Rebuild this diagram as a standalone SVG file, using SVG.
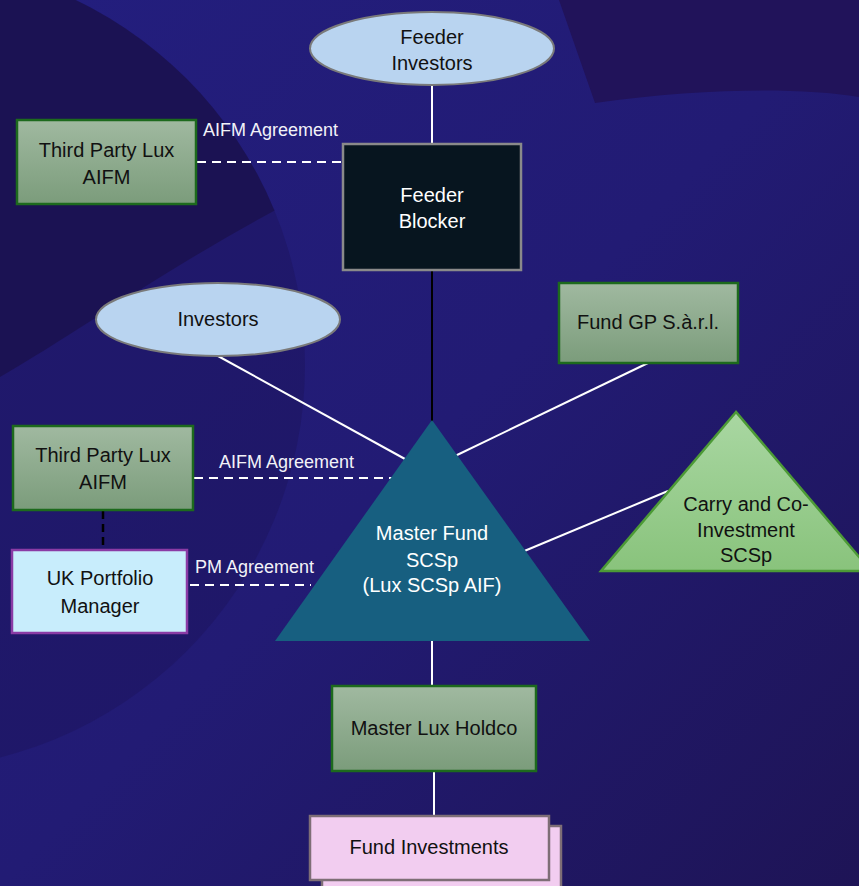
<svg xmlns="http://www.w3.org/2000/svg" width="859" height="886" viewBox="0 0 859 886">
<defs>
<linearGradient id="bg" x1="0" y1="0" x2="1" y2="1">
<stop offset="0" stop-color="#231e7e"/>
<stop offset="0.5" stop-color="#221b74"/>
<stop offset="1" stop-color="#1e1456"/>
</linearGradient>
<linearGradient id="green" x1="0" y1="0" x2="0" y2="1">
<stop offset="0" stop-color="#a0b9a0"/>
<stop offset="1" stop-color="#7b9c7b"/>
</linearGradient>
<linearGradient id="lgreen" x1="0" y1="0" x2="0" y2="1">
<stop offset="0" stop-color="#a9d7a2"/>
<stop offset="1" stop-color="#89c37c"/>
</linearGradient>
<clipPath id="circ"><circle cx="-100" cy="365" r="405"/></clipPath>
</defs>
<style>
.node{font-family:"Liberation Sans",Arial,sans-serif;font-size:20px;fill:#111;text-anchor:middle}
.wt{fill:#ffffff}
.lbl{font-family:"Liberation Sans",Arial,sans-serif;font-size:18px;fill:#f2f2f8}
.gbox{fill:url(#green);stroke:#1d6a1d;stroke-width:2.5}
.ell{fill:#b9d4f0;stroke:#7a7a7a;stroke-width:2}
.solid{stroke:#ffffff;stroke-width:2;fill:none}
.dash{stroke:#ffffff;stroke-width:2;stroke-dasharray:9 6;fill:none}
</style>
<g id="background">
<rect x="0" y="0" width="859" height="886" fill="url(#bg)"/>
<circle cx="-100" cy="365" r="405" fill="#1d145c" opacity="0.45"/>
<path clip-path="url(#circ)" d="M0,0 L600,0 L600,100 C350,130 150,290 0,377 Z" fill="#1b124f" opacity="0.85"/>
<path d="M559,0 L859,0 L859,97 C800,87 700,88 595,103 Z" fill="#21135a"/>
</g>
<g id="connectors">
<line class="solid" x1="432" y1="85" x2="432" y2="144" stroke-width="1.5"/>
<line x1="432" y1="270" x2="432" y2="423" stroke="#000000" stroke-width="2"/>
<line class="solid" x1="218" y1="356" x2="405" y2="459"/>
<line class="solid" x1="648" y1="363" x2="455" y2="456"/>
<line class="solid" x1="668" y1="491" x2="522" y2="552"/>
<line class="solid" x1="432" y1="641" x2="432" y2="686"/>
<line class="solid" x1="434" y1="771" x2="434" y2="816"/>
<line class="dash" x1="197" y1="162" x2="343" y2="162"/>
<line class="dash" x1="194" y1="478" x2="400" y2="478"/>
<line class="dash" x1="190" y1="585" x2="311" y2="585"/>
<line x1="103" y1="511" x2="103" y2="549" stroke="#000000" stroke-width="2.5" stroke-dasharray="8 5"/>
<text class="lbl" x="203" y="136">AIFM Agreement</text>
<text class="lbl" x="219" y="468">AIFM Agreement</text>
<text class="lbl" x="195" y="573">PM Agreement</text>
</g>
<g id="feeder-investors">
<ellipse class="ell" cx="432" cy="48.5" rx="122" ry="36.5"/>
<text class="node" x="432" y="43.5">Feeder</text>
<text class="node" x="432" y="69.5">Investors</text>
</g>
<g id="third-party-aifm-1">
<rect class="gbox" x="17" y="120" width="179" height="84"/>
<text class="node" x="106.5" y="157">Third Party Lux</text>
<text class="node" x="106.5" y="183.5">AIFM</text>
</g>
<g id="feeder-blocker">
<rect x="343" y="144" width="178" height="126" fill="#07151f" stroke="#8a8a8a" stroke-width="2.5"/>
<text class="node wt" x="432" y="201.5">Feeder</text>
<text class="node wt" x="432" y="227.5">Blocker</text>
</g>
<g id="investors">
<ellipse class="ell" cx="218" cy="319.5" rx="122" ry="36.5"/>
<text class="node" x="218" y="326">Investors</text>
</g>
<g id="fund-gp">
<rect class="gbox" x="559" y="283" width="179" height="80"/>
<text class="node" x="648" y="329">Fund GP S.à.r.l.</text>
</g>
<g id="third-party-aifm-2">
<rect class="gbox" x="13" y="426" width="180" height="84"/>
<text class="node" x="103" y="462">Third Party Lux</text>
<text class="node" x="103" y="488.5">AIFM</text>
</g>
<g id="uk-portfolio-manager">
<rect x="12" y="550" width="175" height="83" fill="#c8edfc" stroke="#8a3ba5" stroke-width="2.5"/>
<text class="node" x="100" y="585">UK Portfolio</text>
<text class="node" x="100" y="612.5">Manager</text>
</g>
<g id="master-fund">
<polygon points="432,420 275,641 590,641" fill="#175f80"/>
<text class="node wt" x="432" y="540">Master Fund</text>
<text class="node wt" x="432" y="566.5">SCSp</text>
<text class="node wt" x="432" y="591.5">(Lux SCSp AIF)</text>
</g>
<g id="carry-co-investment">
<polygon points="736,412 601,571 871,571" fill="url(#lgreen)" stroke="#4c9a36" stroke-width="2.5"/>
<text class="node" x="746" y="511">Carry and Co-</text>
<text class="node" x="746" y="536.5">Investment</text>
<text class="node" x="746" y="561.5">SCSp</text>
</g>
<g id="master-lux-holdco">
<rect class="gbox" x="332" y="686" width="204" height="85"/>
<text class="node" x="434" y="735">Master Lux Holdco</text>
</g>
<g id="fund-investments">
<rect x="322" y="826" width="239" height="70" fill="#f2cdf0" stroke="#7e6e76" stroke-width="2.5"/>
<rect x="310" y="816" width="239" height="64" fill="#f2cdf0" stroke="#7e6e76" stroke-width="2.5"/>
<text class="node" x="429" y="853.5">Fund Investments</text>
</g>
</svg>
